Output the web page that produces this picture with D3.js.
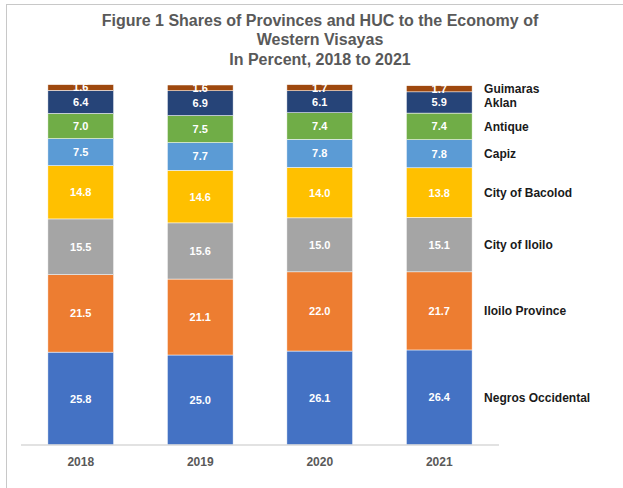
<!DOCTYPE html>
<html>
<head>
<meta charset="utf-8" />
<title>Western Visayas shares</title>
<script src="https://d3js.org/d3.v7.min.js"></script>
<style>
  body { margin: 0; background: #fff; }
  text { font-family: "Liberation Sans", Arial, sans-serif; }
</style>
</head>
<body>
<svg></svg>
<script>
// categories (x) and series, bottom to top of the stack
const years = ["2018", "2019", "2020", "2021"]
const seriesNames = ["Negros Occidental", "Iloilo Province", "City of Iloilo", "City of Bacolod",
                     "Capiz", "Antique", "Aklan", "Guimaras"]
const negros    = [25.8, 25.0, 26.1, 26.4]
const iloiloProv = [21.5, 21.1, 22.0, 21.7]
const iloiloCity = [15.5, 15.6, 15.0, 15.1]
const bacolod   = [14.8, 14.6, 14.0, 13.8]
const capiz     = [7.5, 7.7, 7.8, 7.8]
const antique   = [7.0, 7.5, 7.4, 7.4]
const aklan     = [6.4, 6.9, 6.1, 5.9]
const guimaras  = [1.6, 1.6, 1.7, 1.7]
const colors = ["#4472C4", "#ED7D31", "#A5A5A5", "#FFC000", "#5B9BD5", "#70AD47", "#264478", "#9E480E"]
const titleLines = ["Figure 1 Shares of Provinces and HUC to the Economy of", "Western Visayas", "In Percent, 2018 to 2021"]

const allSeries = [negros, iloiloProv, iloiloCity, bacolod, capiz, antique, aklan, guimaras]
const rows = years.map((y, i) => {
  const r = { year: y }
  seriesNames.forEach((n, k) => r[n] = allSeries[k][i])
  return r
})

const W = 623, H = 488
const svg = d3.select("svg").attr("width", W).attr("height", H)

// chart frame
svg.append("rect")
  .attr("x", 6.5).attr("y", 4.5)
  .attr("width", 700).attr("height", 600)
  .attr("fill", "none").attr("stroke", "#C8C8C8")

const plotLeft = 21, plotRight = 499, baseY = 445

const x = d3.scaleBand().domain(years).range([plotLeft, plotRight]).paddingInner(0.45).paddingOuter(0.225)
const y = d3.scaleLinear().domain([0, 100]).range([baseY, baseY - 360])

const stacked = d3.stack().keys(seriesNames)(rows)

// title
svg.append("g").selectAll("text")
  .data(titleLines)
  .join("text")
  .attr("x", 320)
  .attr("y", (d, i) => 25.5 + i * 19.8)
  .attr("text-anchor", "middle")
  .attr("font-size", 16)
  .attr("font-weight", "bold")
  .attr("fill", "#595959")
  .text(d => d)

const layers = svg.append("g").selectAll("g")
  .data(stacked)
  .join("g")
  .attr("fill", (d, i) => colors[i])

layers.selectAll("rect")
  .data(d => d)
  .join("rect")
  .attr("x", d => x(d.data.year))
  .attr("y", d => y(d[1]))
  .attr("width", x.bandwidth())
  .attr("height", d => y(d[0]) - y(d[1]))
  .attr("stroke", "#fff")
  .attr("stroke-width", 0.5)

// value labels
layers.selectAll("text")
  .data(d => d)
  .join("text")
  .attr("x", d => x(d.data.year) + x.bandwidth() / 2)
  .attr("y", d => (y(d[0]) + y(d[1])) / 2)
  .attr("dy", "0.36em")
  .attr("text-anchor", "middle")
  .attr("font-size", 11)
  .attr("font-weight", "bold")
  .attr("fill", "#fff")
  .text(d => (d[1] - d[0]).toFixed(1))

// baseline axis
const xAxis = svg.append("g")
  .attr("transform", `translate(0,${baseY})`)
  .call(d3.axisBottom(x).tickSize(0).tickPadding(12))
xAxis.select(".domain").attr("stroke", "#D9D9D9").attr("stroke-width", 1.5)
  .attr("d", `M${plotLeft},0H${plotRight}`)
xAxis.selectAll("text")
  .attr("font-size", 12).attr("font-weight", "bold").attr("fill", "#595959")
  .attr("font-family", "Liberation Sans, Arial, sans-serif")

// series names beside the last bar
const lastYear = years[years.length - 1]
svg.append("g").selectAll("text")
  .data(stacked)
  .join("text")
  .attr("x", x(lastYear) + x.bandwidth() + 12)
  .attr("y", d => {
    const seg = d[d.length - 1]
    return (y(seg[0]) + y(seg[1])) / 2
  })
  .attr("dy", "0.36em")
  .attr("font-size", 12)
  .attr("font-weight", "bold")
  .attr("fill", "#1a1a1a")
  .text(d => d.key)
</script>
</body>
</html>
